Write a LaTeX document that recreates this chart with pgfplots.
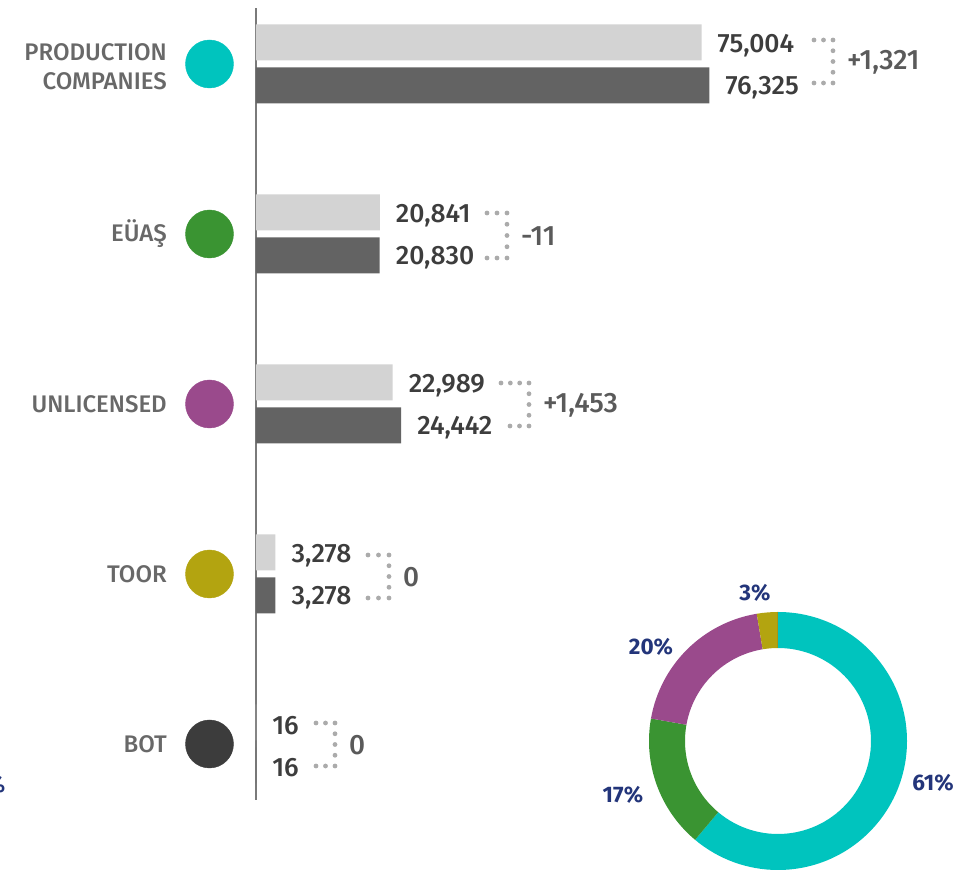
\documentclass[border=0pt]{standalone}
\usepackage{pgfplots}
\pgfplotsset{compat=1.18}
\usepackage{fontspec}
\setmainfont{Fira Sans Medium}
\newfontfamily\pctfont{Fira Sans}
\definecolor{cyanP}{HTML}{00C4BE}
\definecolor{greenP}{HTML}{3A9432}
\definecolor{purpleP}{HTML}{9A4A8C}
\definecolor{oliveP}{HTML}{B3A410}
\definecolor{darkP}{HTML}{3C3C3C}
\definecolor{lightbar}{HTML}{D3D3D3}
\definecolor{darkbar}{HTML}{636363}
\definecolor{valtext}{HTML}{3D3D3D}
\definecolor{difftext}{HTML}{5A5A5A}
\definecolor{labtext}{HTML}{686868}
\definecolor{dotgray}{HTML}{ABABAB}
\definecolor{axisgray}{HTML}{7A7A7A}
\definecolor{navy}{HTML}{23357A}
\newcommand\bracket[8]{%
  \foreach \i in {0,...,#2} \fill[dotgray] ({#1+(#5-#1)*\i/#2},{870-#6}) circle[radius=2.4];
  \foreach \i in {0,...,#4} \fill[dotgray] ({#3+(#5-#3)*\i/#4},{870-#7}) circle[radius=2.4];
  \foreach \i in {1,2,3} \fill[dotgray] (#5,{870-#6-(#7-#6)*\i/4}) circle[radius=2.4];
  \node[anchor=west, inner sep=0pt, text=difftext, font=\fontsize{28}{28}\selectfont] at ({#5+14},{870-(#6+#7)/2-1}) {#8};
}
\begin{document}
\begin{tikzpicture}[x=1pt,y=1pt]
\useasboundingbox (0,0) rectangle (978,870);
% shares for the donut (values in thousands)
\pgfmathsetmacro\tot{76.325+20.830+24.442+3.278+0.016}
\pgfmathsetmacro\aA{90}
\pgfmathsetmacro\aB{\aA-76.325/\tot*360}
\pgfmathsetmacro\aC{\aB-20.830/\tot*360}
\pgfmathsetmacro\aD{\aC-24.442/\tot*360}
\pgfmathsetmacro\aE{\aD-3.278/\tot*360}
\pgfmathsetmacro\aF{\aE-0.016/\tot*360}
\begin{axis}[at={(256pt,70pt)}, anchor=south west, scale only axis,
  width=712.8pt, height=792pt, xmin=0, xmax=120000,
  ymin=-0.3294, ymax=4.3294, hide axis, clip=false,
  /pgf/number format/.cd, fixed, precision=0, 1000 sep={,}, assume math mode=true]
\draw[axisgray, line width=1.6pt] (axis cs:0,-0.3294) -- (axis cs:0,4.3294);
\addplot[xbar, bar width=36pt, bar shift=21.5pt, fill=lightbar, draw=none,
  point meta=x, nodes near coords,
  every node near coord/.append style={anchor=west, inner sep=0pt, xshift=16pt, yshift=18pt, text=valtext, font=\fontsize{26.5}{26.5}\selectfont}]
  coordinates {(75004,4) (20841,3) (22989,2) (3278,1) (16,0)};
\addplot[xbar, bar width=36pt, bar shift=-21.5pt, fill=darkbar, draw=none,
  point meta=x, nodes near coords,
  every node near coord/.append style={anchor=west, inner sep=0pt, xshift=16pt, yshift=-24pt, text=valtext, font=\fontsize{26.5}{26.5}\selectfont}]
  coordinates {(76325,4) (20830,3) (24442,2) (3278,1) (16,0)};
\addplot[only marks, mark=*, mark size=24pt, color=cyanP] coordinates {(-7828,4)};
\addplot[only marks, mark=*, mark size=24pt, color=greenP] coordinates {(-7828,3)};
\addplot[only marks, mark=*, mark size=24pt, color=purpleP] coordinates {(-7828,2)};
\addplot[only marks, mark=*, mark size=24pt, color=oliveP] coordinates {(-7828,1)};
\addplot[only marks, mark=*, mark size=24pt, color=darkP] coordinates {(-7828,0)};
\begin{scope}[every node/.style={anchor=east, align=right, inner sep=0pt, text=labtext, font=\fontsize{24}{29}\selectfont}]
\node[yshift=-3pt] at (axis cs:-14983,4) {PRODUCTION\\COMPANIES};
\node at (axis cs:-14983,3) {EÜAŞ};
\node at (axis cs:-14983,2) {UNLICENSED};
\node at (axis cs:-14983,1) {TOOR};
\node at (axis cs:-14983,0) {BOT};
\end{scope}
\end{axis}
\begin{axis}[at={(778pt,129pt)}, anchor=center, scale only axis,
  width=260pt, height=260pt, xmin=-130, xmax=130, ymin=-130, ymax=130,
  hide axis, clip=false]
\fill[cyanP] (axis cs:{129*cos(\aA)},{129*sin(\aA)}) arc[start angle=\aA, end angle=\aB, radius=129pt] -- (axis cs:{93*cos(\aB)},{93*sin(\aB)}) arc[start angle=\aB, end angle=\aA, radius=93pt] -- cycle;
\fill[greenP] (axis cs:{129*cos(\aB)},{129*sin(\aB)}) arc[start angle=\aB, end angle=\aC, radius=129pt] -- (axis cs:{93*cos(\aC)},{93*sin(\aC)}) arc[start angle=\aC, end angle=\aB, radius=93pt] -- cycle;
\fill[purpleP] (axis cs:{129*cos(\aC)},{129*sin(\aC)}) arc[start angle=\aC, end angle=\aD, radius=129pt] -- (axis cs:{93*cos(\aD)},{93*sin(\aD)}) arc[start angle=\aD, end angle=\aC, radius=93pt] -- cycle;
\fill[oliveP] (axis cs:{129*cos(\aD)},{129*sin(\aD)}) arc[start angle=\aD, end angle=\aE, radius=129pt] -- (axis cs:{93*cos(\aE)},{93*sin(\aE)}) arc[start angle=\aE, end angle=\aD, radius=93pt] -- cycle;
\fill[darkP] (axis cs:{129*cos(\aE)},{129*sin(\aE)}) arc[start angle=\aE, end angle=\aF, radius=129pt] -- (axis cs:{93*cos(\aF)},{93*sin(\aF)}) arc[start angle=\aF, end angle=\aE, radius=93pt] -- cycle;
\end{axis}
\bracket{814}{2}{814}{2}{833}{40}{83}{+1,321}
\bracket{487}{2}{487}{2}{507}{213}{258}{-11}
\bracket{501}{3}{510}{2}{529}{383}{426}{+1,453}
\bracket{368}{2}{368}{2}{389}{555}{598}{0}
\bracket{316}{2}{316}{2}{335}{723}{766}{0}
\begin{scope}[every node/.style={inner sep=0pt, text=navy, font=\pctfont\bfseries\fontsize{22.5}{22.5}\selectfont}]
\node at (755,277) {3\%};
\node at (651,223) {20\%};
\node at (623,75) {17\%};
\node at (933,87) {61\%};
\node[anchor=east] at (5.5,85) {\%};
\end{scope}
\end{tikzpicture}
\end{document}
